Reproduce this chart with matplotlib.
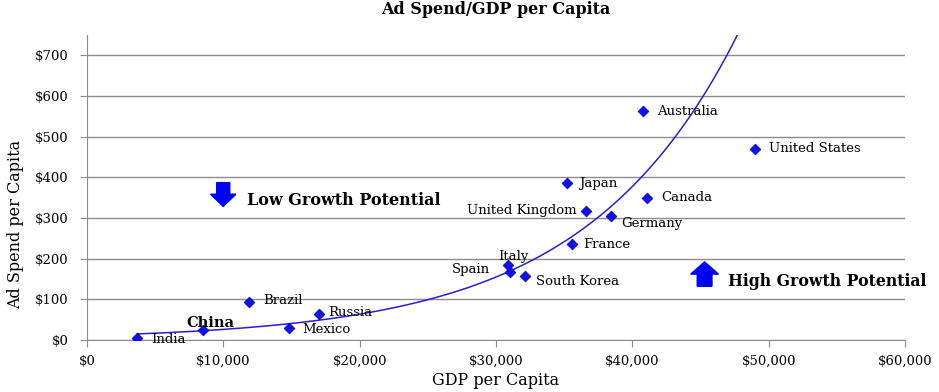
import numpy as np
import matplotlib.pyplot as plt
from matplotlib.ticker import FuncFormatter
from matplotlib.patches import FancyArrow

countries = ["India", "China", "Brazil", "Mexico", "Russia", "Spain", "Italy",
             "South Korea", "France", "United Kingdom", "Germany", "Canada",
             "Japan", "Australia", "United States"]
gdp = [3700, 8500, 11900, 14800, 17000, 31000, 30900, 32100, 35600, 36600,
       38400, 41100, 35200, 40800, 49000]
adspend = [5, 25, 93, 30, 63, 167, 184, 157, 237, 318, 304, 350, 386, 563, 470]

# label offsets (points) and alignment
lab = {
    "India": (10, -1, "left"), "China": (-12, 5, "left"), "Brazil": (10, 1, "left"),
    "Mexico": (10, -1, "left"), "Russia": (7, 1, "left"), "Spain": (-14, 2, "right"),
    "Italy": (-7, 6, "left"), "South Korea": (8, -4, "left"), "France": (8, -1, "left"),
    "United Kingdom": (-7, 0, "right"), "Germany": (8, -5, "left"), "Canada": (10, 0, "left"),
    "Japan": (9, 0, "left"), "Australia": (10, 0, "left"), "United States": (10, 0, "left"),
}

plt.rcParams['font.family'] = ['DejaVu Serif']
fig = plt.figure(figsize=(9.39, 3.92), dpi=100)
ax = fig.add_axes([0.0927, 0.1327, 0.8711, 0.778])

# exponential trendline (log-linear fit, like Excel)
b, lna = np.polyfit(gdp, np.log(adspend), 1)
xt = np.linspace(min(gdp), max(gdp), 300)
ax.plot(xt, np.exp(lna) * np.exp(b * xt), color="#2a1fd0", lw=1.1, zorder=2)

ax.scatter(gdp, adspend, marker="D", s=30, color="#1010ee", edgecolor="#0000a0",
           linewidth=0.5, zorder=3)

for c, x, y in zip(countries, gdp, adspend):
    dx, dy, ha = lab[c]
    ax.annotate(c, (x, y), xytext=(dx, dy), textcoords="offset points",
                ha=ha, va="center", fontsize=9.5 if c != "China" else 10.5,
                fontweight="bold" if c == "China" else "normal")

ax.set_xlim(0, 60000)
ax.set_ylim(0, 750)
ax.set_xticks(np.arange(0, 60001, 10000))
ax.set_yticks(np.arange(0, 701, 100))
ax.xaxis.set_major_formatter(FuncFormatter(lambda v, p: "${:,.0f}".format(v)))
ax.yaxis.set_major_formatter(FuncFormatter(lambda v, p: "${:,.0f}".format(v)))
ax.grid(axis="y", color="#8c8c8c", lw=1)
ax.set_axisbelow(True)
for s in ["top", "right"]:
    ax.spines[s].set_visible(False)
for s in ["left", "bottom"]:
    ax.spines[s].set_color("#8c8c8c")
ax.tick_params(axis="both", color="#8c8c8c", length=5, labelsize=9.5, pad=8)
ax.tick_params(axis="x", pad=6)

ax.set_title("Ad Spend/GDP per Capita", fontsize=11.5, fontweight="bold", pad=15)
ax.set_xlabel("GDP per Capita", fontsize=11.5)
ax.set_ylabel("Ad Spend per Capita", fontsize=11.5)
ax.xaxis.set_label_coords(0.5, -0.105)
ax.yaxis.set_label_coords(-0.077, 0.38)

# growth potential arrows
ax.add_patch(FancyArrow(0.1665, 0.516, 0, -0.078, width=0.016, head_width=0.031,
                        head_length=0.04, length_includes_head=True,
                        color="#0000ff", transform=ax.transAxes))
ax.add_patch(FancyArrow(0.755, 0.176, 0, 0.08, width=0.018, head_width=0.034,
                        head_length=0.04, length_includes_head=True,
                        color="#0000ff", transform=ax.transAxes))
ax.text(0.195, 0.458, "Low Growth Potential", transform=ax.transAxes,
        fontsize=11.5, fontweight="bold", va="center")
ax.text(0.784, 0.193, "High Growth Potential", transform=ax.transAxes,
        fontsize=11.3, fontweight="bold", va="center")

fig.savefig("out.png", dpi=100)
